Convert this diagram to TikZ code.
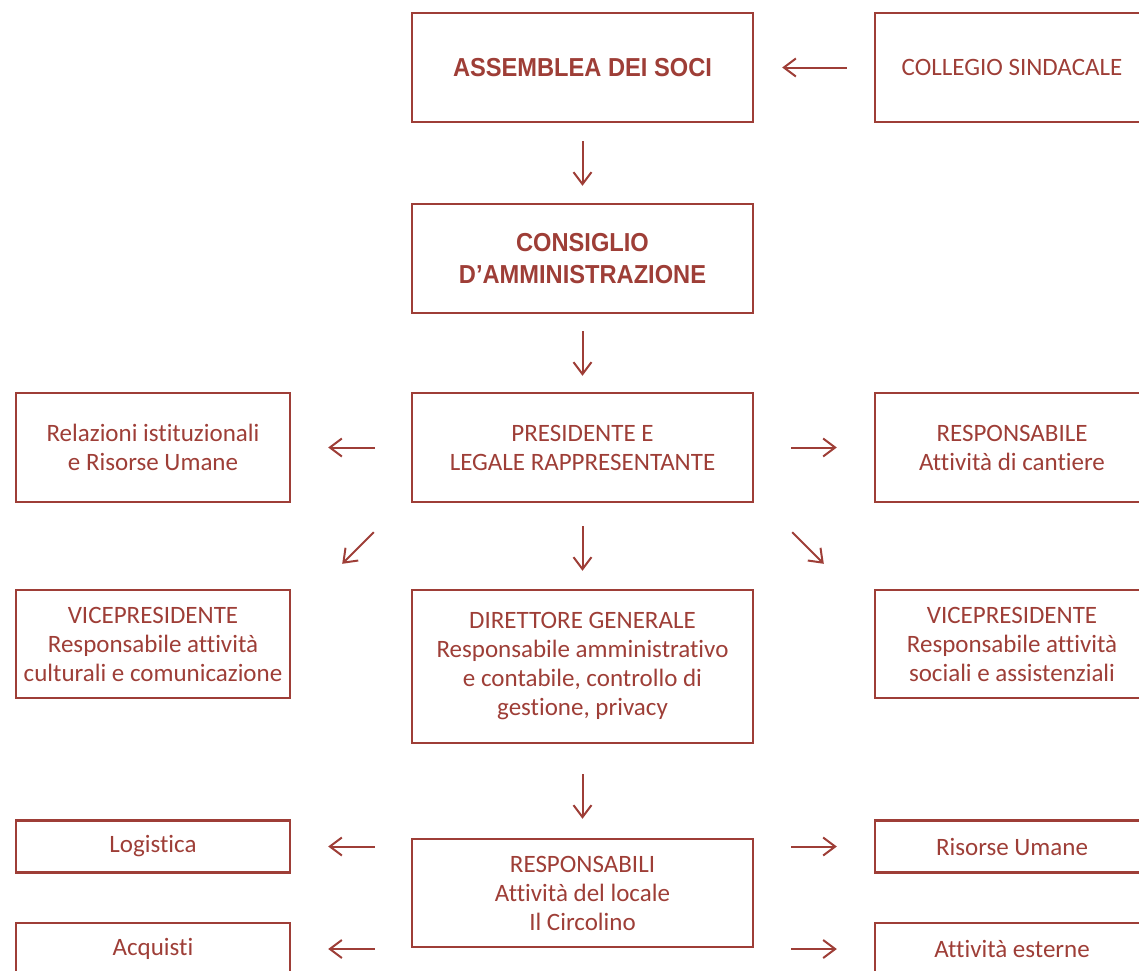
\documentclass[tikz,border=0pt]{standalone}
\usepackage{fontspec}
\setmainfont{Carlito}[Ligatures=NoCommon]
\newfontfamily\titlefont{Liberation Sans}[FakeStretch=0.91]
\usepackage{tikz}
\usetikzlibrary{arrows.meta}
\definecolor{rossoc}{RGB}{158,62,55}

\begin{document}
\begin{tikzpicture}[x=0.5pt, y=-0.5pt,
  box/.style={draw=rossoc, line width=1.2pt, text=rossoc, align=center,
    inner sep=0pt, font=\fontsize{12.5}{14.5}\selectfont},
  wide/.style={box, minimum width=170.5pt},
  side/.style={box, minimum width=137pt},
  boss/.style={wide, font=\titlefont\fontsize{13}{16}\selectfont\bfseries},
  arr/.style={draw=rossoc, line width=1pt, -{Straight Barb[length=6pt, width=9pt, line width=1pt]}}]
\useasboundingbox (0,0) rectangle (1139,970);
\clip (0,0) rectangle (1139,970);

%top
\node[boss, minimum height=54.5pt] (assem) at (582.5,67.5) {ASSEMBLEA DEI SOCI};
\node[side, minimum height=54.5pt] (coll) at (1012,67.5) {COLLEGIO SINDACALE};
\node[boss, minimum height=54.5pt] (consi) at (582.5,258.5) {CONSIGLIO\\D’AMMINISTRAZIONE};

%presidente row
\node[wide, minimum height=54.5pt] (pres) at (582.5,447.5) {PRESIDENTE E\\LEGALE RAPPRESENTANTE};
\node[side, minimum height=54.5pt] (relaz) at (153,447.5) {Relazioni istituzionali\\e Risorse Umane};
\node[side, minimum height=54.5pt] (cant) at (1012,447.5) {RESPONSABILE\\Attività di cantiere};

%vice row
\node[side, minimum height=54pt] (vicel) at (153,644) {VICEPRESIDENTE\\Responsabile attività\\culturali e comunicazione};
\node[wide, minimum height=76.5pt] (dir) at (582.5,666.5) {DIRETTORE GENERALE\\Responsabile amministrativo\\e contabile, controllo di\\gestione, privacy};
\node[side, minimum height=54pt] (vicer) at (1012,644) {VICEPRESIDENTE\\Responsabile attività\\sociali e assistenziali};

%bottom
\node[wide, minimum height=54pt] (resp) at (582.5,893) {RESPONSABILI\\Attività del locale\\Il Circolino};
\node[side, minimum height=26pt] (logi) at (153,846.5) {Logistica};
\node[side, minimum height=26pt] (acq) at (153,949) {Acquisti};
\node[side, minimum height=26pt] (risu) at (1012,846.5) {Risorse Umane};
\node[side, minimum height=26pt] (est) at (1012,949) {Attività esterne};

%arrows
\draw[arr, shorten <=13.5pt, shorten >=14pt] (coll) -- (assem);
\draw[arr, shorten <=9pt, shorten >=8.5pt] (assem) -- (consi);
\draw[arr, shorten <=8.5pt, shorten >=8pt] (consi) -- (pres);
\draw[arr, shorten <=18pt, shorten >=18.5pt] (pres) -- (relaz);
\draw[arr, shorten <=18.5pt, shorten >=18.5pt] (pres) -- (cant);
\draw[arr, shorten <=11.5pt, shorten >=9pt] (pres) -- (dir);
\draw[arr] ([shift={(-37,29)}]pres.south west) -- ([shift={(51,-25)}]vicel.north east);
\draw[arr] ([shift={(38,29)}]pres.south east) -- ([shift={(-50,-25)}]vicer.north west);
\draw[arr, shorten <=15pt, shorten >=9.5pt] (dir) -- (resp);

\draw[arr, shorten <=18pt, shorten >=18.5pt] (resp.west |- logi) -- (logi);
\draw[arr, shorten <=18pt, shorten >=18.5pt] (resp.west |- acq) -- (acq);
\draw[arr, shorten <=18.5pt, shorten >=18.5pt] (resp.east |- risu) -- (risu);
\draw[arr, shorten <=18.5pt, shorten >=18.5pt] (resp.east |- est) -- (est);

\end{tikzpicture}
\end{document}
